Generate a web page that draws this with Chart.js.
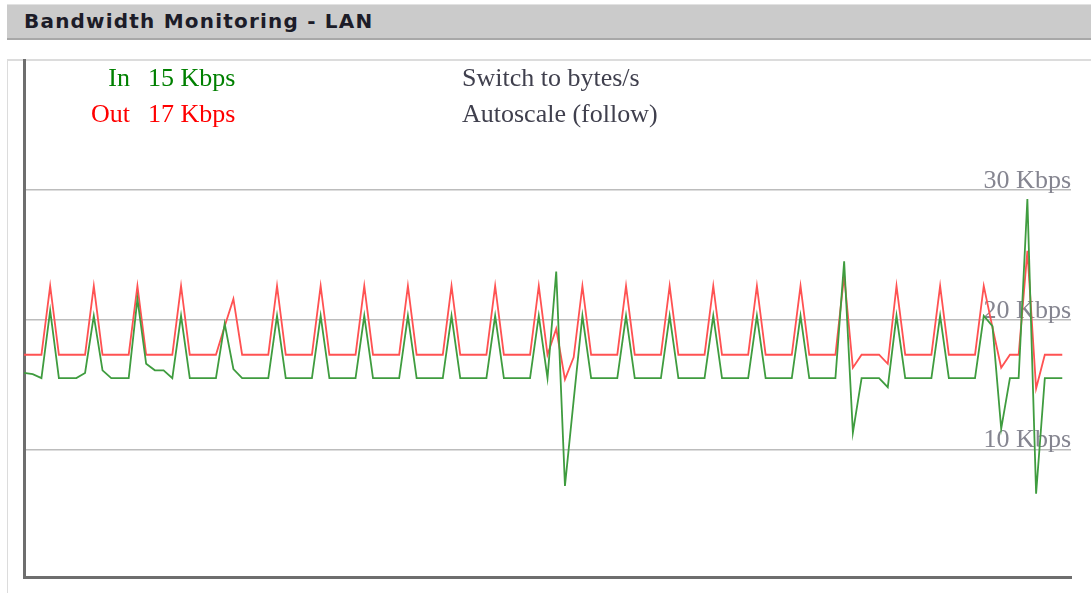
<!DOCTYPE html>
<html>
<head>
<meta charset="utf-8">
<script src="https://cdn.jsdelivr.net/npm/chart.js@4/dist/chart.umd.min.js"></script>
<style>
	body { margin: 0; background: #fff; width: 1091px; height: 593px; overflow: hidden; position: relative; }
	#header { position: absolute; left: 7px; top: 4px; width: 1084px; height: 33px; background: #cbcbcb; border-top: 1px solid #e2e2e2; border-bottom: 2px solid #a8a8a8; }
	#header span { position: absolute; left: 17px; top: 4px; font: bold 20px 'DejaVu Sans', sans-serif; letter-spacing: 1.2px; color: #1c1c28; }
	#box { position: absolute; left: 7px; top: 59px; width: 1084px; height: 540px; border-left: 1px solid #dcdcdc; border-top: 2px solid #dcdcdc; }
	.info { position: absolute; font: 26px 'Liberation Serif', 'Times New Roman', serif; line-height: 26px; white-space: nowrap; }
	.name { text-align: right; width: 80px; }
	#chart-canvas { position: absolute; left: 0; top: 0; }
</style>
</head>
<body>
<div id="header"><span>Bandwidth Monitoring - LAN</span></div>
<div id="box"></div>
<canvas id="chart-canvas" width="1091" height="593"></canvas>
<div class="info name" id="in-name" style="left:50px; top:65px; color:#008000">In</div>
<div class="info" id="in-value" style="left:148px; top:65px; color:#008000"></div>
<div class="info name" id="out-name" style="left:50px; top:101px; color:#ff0000">Out</div>
<div class="info" id="out-value" style="left:148px; top:101px; color:#ff0000"></div>
<div class="info" style="left:462px; top:65px; color:#40404e">Switch to bytes/s</div>
<div class="info" style="left:462px; top:101px; color:#40404e">Autoscale (follow)</div>
<script>
// samples in Kbps, one per tick, oldest first
const in_kbps = [
	15.9, 15.8, 15.5, 20.7, 15.5, 15.5, 15.5, 15.9, 20.3, 16.1,
	15.5, 15.5, 15.5, 21.6, 16.6, 16.1, 16.1, 15.5, 20.3, 15.5,
	15.5, 15.5, 15.5, 19.7, 16.2, 15.5, 15.5, 15.5, 15.5, 20.3,
	15.5, 15.5, 15.5, 15.5, 20.3, 15.5, 15.5, 15.5, 15.5, 20.3,
	15.5, 15.5, 15.5, 15.5, 20.3, 15.5, 15.5, 15.5, 15.5, 20.3,
	15.5, 15.5, 15.5, 15.5, 20.3, 15.5, 15.5, 15.5, 15.5, 20.3,
	15.5, 23.7, 7.2, 13.8, 20.3, 15.5, 15.5, 15.5, 15.5, 20.3,
	15.5, 15.5, 15.5, 15.5, 20.3, 15.5, 15.5, 15.5, 15.5, 20.3,
	15.5, 15.5, 15.5, 15.5, 20.3, 15.5, 15.5, 15.5, 15.5, 20.3,
	15.5, 15.5, 15.5, 15.5, 24.5, 11.3, 15.5, 15.5, 15.5, 14.8,
	20.3, 15.5, 15.5, 15.5, 15.5, 20.3, 15.5, 15.5, 15.5, 15.5,
	20.3, 19.5, 11.6, 15.5, 15.5, 29.3, 6.6, 15.5, 15.5, 15.5
]
const out_kbps = [
	17.3, 17.3, 17.3, 22.6, 17.3, 17.3, 17.3, 17.3, 22.6, 17.3,
	17.3, 17.3, 17.3, 22.6, 17.3, 17.3, 17.3, 17.3, 22.6, 17.3,
	17.3, 17.3, 17.3, 19.5, 21.6, 17.3, 17.3, 17.3, 17.3, 22.6,
	17.3, 17.3, 17.3, 17.3, 22.6, 17.3, 17.3, 17.3, 17.3, 22.6,
	17.3, 17.3, 17.3, 17.3, 22.6, 17.3, 17.3, 17.3, 17.3, 22.6,
	17.3, 17.3, 17.3, 17.3, 22.6, 17.3, 17.3, 17.3, 17.3, 22.6,
	17.3, 19.3, 15.4, 17.1, 22.6, 17.3, 17.3, 17.3, 17.3, 22.6,
	17.3, 17.3, 17.3, 17.3, 22.6, 17.3, 17.3, 17.3, 17.3, 22.6,
	17.3, 17.3, 17.3, 17.3, 22.6, 17.3, 17.3, 17.3, 17.3, 22.6,
	17.3, 17.3, 17.3, 17.3, 23.4, 16.3, 17.3, 17.3, 17.3, 16.6,
	22.6, 17.3, 17.3, 17.3, 17.3, 22.6, 17.3, 17.3, 17.3, 17.3,
	22.6, 19.4, 16.3, 17.3, 17.3, 25.3, 14.7, 17.3, 17.3, 17.3
]
const current_in = '15 Kbps'
const current_out = '17 Kbps'
const y_ticks = [10, 20, 30]
const y_tick_labels = ['10 Kbps', '20 Kbps', '30 Kbps']
const y_min = 0.15
const y_max = 40
const sample_slots = 120

class BandwidthChart {

	constructor() {
		document.getElementById('in-value').innerText = current_in
		document.getElementById('out-value').innerText = current_out
	}

	get_points(values) {
		return values.map((v, i) => ({x: i, y: v}))
	}

	get_options() {
		return {
			responsive: false,
			animation: false,
			devicePixelRatio: 1,
			layout: {
				// chart.js adds ~9px of its own on the left and bottom
				padding: {left: 16, top: 60, right: 20, bottom: 6}
			},
			plugins: {
				legend: {display: false},
				tooltip: {enabled: false}
			},
			scales: {
				x: {
					type: 'linear',
					min: 0,
					max: sample_slots,
					grid: {display: false},
					ticks: {display: false},
					border: {color: '#6e6e6e', width: 3}
				},
				y: {
					position: 'left',
					min: y_min,
					max: y_max,
					grid: {display: false},
					ticks: {display: false},
					border: {color: '#6e6e6e', width: 3}
				},
				y_labels: {
					position: 'right',
					min: y_min,
					max: y_max,
					afterBuildTicks: (axis) => {
						axis.ticks = y_ticks.map(v => ({value: v}))
					},
					border: {display: false},
					grid: {
						drawTicks: false,
						lineWidth: 1.5,
						color: '#bcbcbc'
					},
					ticks: {
						mirror: true,
						padding: 0,
						labelOffset: -9,
						color: '#858590',
						font: {family: "'Liberation Serif', 'Times New Roman', serif", size: 26},
						callback: (value) => y_tick_labels[y_ticks.indexOf(value)]
					}
				}
			}
		}
	}

	create_chart() {
		return new Chart(document.getElementById('chart-canvas'), {
			type: 'line',
			data: {
				datasets: [{
					label: 'In',
					data: this.get_points(in_kbps),
					borderColor: '#3f9c3f',
					borderWidth: 1.8,
					pointRadius: 0,
					tension: 0
				}, {
					label: 'Out',
					data: this.get_points(out_kbps),
					borderColor: '#ff5252',
					borderWidth: 1.8,
					pointRadius: 0,
					tension: 0
				}]
			},
			options: this.get_options()
		})
	}
}

new BandwidthChart().create_chart()
</script>
</body>
</html>
